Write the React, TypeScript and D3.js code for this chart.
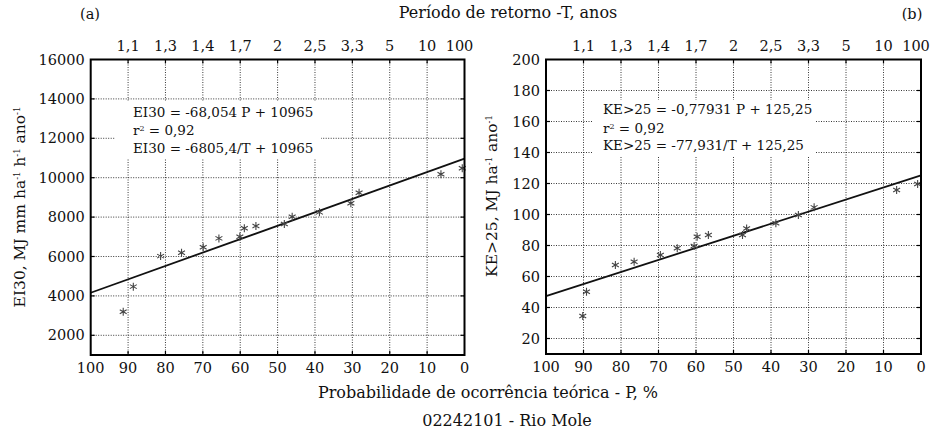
import React from "react";
import * as d3 from "d3";

// ---------- data ----------
const bottomTicks = [100, 90, 80, 70, 60, 50, 40, 30, 20, 10, 0];
const topTickP = [90, 80, 70, 60, 50, 40, 30, 20, 10, 0];
const topTickLabels = ["1,1", "1,3", "1,4", "1,7", "2", "2,5", "3,3", "5", "10", "100"];

const eiP = [91.3, 88.6, 81.3, 75.7, 69.9, 65.7, 60.1, 58.9, 55.8, 48.2, 46.1, 38.8, 30.4, 28.2, 6.3, 0.6];
const eiValues = [3200, 4470, 6020, 6190, 6470, 6920, 7000, 7430, 7550, 7650, 8020, 8240, 8700, 9240, 10170, 10480];
const eiTicks = [2000, 4000, 6000, 8000, 10000, 12000, 14000, 16000];
const eiFit = { slope: -68.054, intercept: 10965 };

const keP = [90.2, 89.2, 81.5, 76.5, 69.5, 65.0, 60.5, 59.7, 56.7, 47.6, 46.5, 38.7, 32.7, 28.5, 6.5, 0.9];
const keValues = [34.5, 50.2, 67.4, 69.5, 73.9, 78.2, 79.7, 85.7, 86.8, 86.8, 91.0, 94.3, 99.7, 104.6, 115.8, 119.7];
const keTicks = [20, 40, 60, 80, 100, 120, 140, 160, 180, 200];
const keFit = { slope: -0.77931, intercept: 125.25 };

const FONT = "'DejaVu Serif', serif";

type PanelProps = {
  x0: number; x1: number; y0: number; y1: number;
  yDomain: [number, number];
  yTicks: number[];
  P: number[]; V: number[];
  fit: { slope: number; intercept: number };
  box: { x: number; y: number; w: number; h: number };
  textX: number; textY: number[];
  eq: string[];
  label: "a" | "b";
  yLabel: React.ReactNode;
  yLabelX: number; yLabelY: number;
};

function star(cx: number, cy: number, r: number) {
  const parts: string[] = [];
  for (let k = 0; k < 3; k++) {
    const a = (Math.PI / 2) + (k * Math.PI) / 3;
    const dx = Math.cos(a) * r, dy = Math.sin(a) * r;
    parts.push(`M${cx - dx},${cy - dy}L${cx + dx},${cy + dy}`);
  }
  return parts.join("");
}

function Panel(p: PanelProps) {
  const x = d3.scaleLinear().domain([100, 0]).range([p.x0, p.x1]);
  const y = d3.scaleLinear().domain(p.yDomain).range([p.y1, p.y0]);
  const line = d3.line<number>().x((d) => x(d)).y((d) => y(p.fit.slope * d + p.fit.intercept));
  const gridP = bottomTicks.filter((t) => t !== 100 && t !== 0);
  const gridY = p.yTicks.filter((t) => t !== p.yDomain[1]);
  const tl = 4;
  return (
    <g>
      {/* grid */}
      {gridP.map((t) => (
        <line key={"gv" + t} x1={x(t)} x2={x(t)} y1={p.y0} y2={p.y1} stroke="#222" strokeWidth={0.9} strokeDasharray="1,1.5" />
      ))}
      {gridY.map((t) => (
        <line key={"gh" + t} x1={p.x0} x2={p.x1} y1={y(t)} y2={y(t)} stroke="#222" strokeWidth={0.9} strokeDasharray="1,1.5" />
      ))}
      {/* inward ticks */}
      {gridP.map((t) => (
        <g key={"tv" + t}>
          <line x1={x(t)} x2={x(t)} y1={p.y0} y2={p.y0 + tl} stroke="#000" strokeWidth={1.2} />
          <line x1={x(t)} x2={x(t)} y1={p.y1} y2={p.y1 - tl} stroke="#000" strokeWidth={1.2} />
        </g>
      ))}
      {gridY.map((t) => (
        <g key={"th" + t}>
          <line x1={p.x0} x2={p.x0 + tl} y1={y(t)} y2={y(t)} stroke="#000" strokeWidth={1.2} />
          <line x1={p.x1} x2={p.x1 - tl} y1={y(t)} y2={y(t)} stroke="#000" strokeWidth={1.2} />
        </g>
      ))}
      {/* equation box */}
      <rect x={p.box.x} y={p.box.y} width={p.box.w} height={p.box.h} fill="#fff" />
      <g fontFamily={FONT} fontSize={13.5} fill="#111">
        <text x={p.textX} y={p.textY[0]}>{p.eq[0]}</text>
        <text x={p.textX} y={p.textY[1]}>
          r<tspan fontSize={8} baselineShift="super">2</tspan> = 0,92
        </text>
        <text x={p.textX} y={p.textY[2]}>{p.eq[1]}</text>
      </g>
      {/* fit line */}
      <path d={line([100, 0]) || ""} stroke="#111" strokeWidth={1.8} fill="none" />
      {/* points */}
      {p.P.map((pp, i) => (
        <path key={"s" + i} d={star(x(pp), y(p.V[i]), 4)} stroke="#444" strokeWidth={1.1} fill="none" />
      ))}
      {/* frame */}
      <rect x={p.x0} y={p.y0} width={p.x1 - p.x0} height={p.y1 - p.y0} fill="none" stroke="#000" strokeWidth={2} />
      {/* tick labels */}
      <g fontFamily={FONT} fontSize={14.5} fill="#111">
        {bottomTicks.map((t) => (
          <text key={"bl" + t} x={x(t)} y={p.y1 + 18} textAnchor="middle">{t}</text>
        ))}
        {topTickP.map((t, i) => (
          <text key={"tl" + t} x={t === 0 ? x(t) - 5 : x(t)} y={p.y0 - 9} textAnchor="middle">{topTickLabels[i]}</text>
        ))}
        {p.yTicks.map((t) => (
          <text key={"yl" + t} x={p.x0 - 6} y={y(t) + 5} textAnchor="end">{t}</text>
        ))}
      </g>
      <text x={p.label === "a" ? 90 : 912} y={19} fontFamily={FONT} fontSize={14.5} textAnchor="middle" fill="#111">({p.label})</text>
      <text transform={`translate(${p.yLabelX},${p.yLabelY}) rotate(-90)`} fontFamily={FONT} fontSize={15.5} textAnchor="middle" fill="#111">
        {p.yLabel}
      </text>
    </g>
  );
}

const sup = (s: string) => (
  <tspan fontSize={8.5} baselineShift="super">{s}</tspan>
);

export default function App() {
  return (
    <svg width={933} height={431} style={{ display: "block", position: "absolute", left: 0, top: 0, background: "#fff" }}>
      <rect width={933} height={431} fill="#fff" />
      <text x={508} y={18} fontFamily={FONT} fontSize={16} textAnchor="middle" fill="#111">Período de retorno -T, anos</text>
      <Panel
        x0={90.7} x1={464.5} y0={59.5} y1={355}
        yDomain={[1000, 16000]} yTicks={eiTicks}
        P={eiP} V={eiValues} fit={eiFit}
        box={{ x: 115, y: 101, w: 206, h: 58 }}
        textX={133} textY={[116.5, 134.5, 152.5]}
        eq={["EI30 = -68,054 P + 10965", "EI30 = -6805,4/T + 10965"]}
        label="a"
        yLabel={<>EI30, MJ mm ha{sup("-1")} h{sup("-1")} ano{sup("-1")}</>}
        yLabelX={25} yLabelY={207}
      />
      <Panel
        x0={546} x1={921} y0={59.5} y1={354}
        yDomain={[10, 200]} yTicks={keTicks}
        P={keP} V={keValues} fit={keFit}
        box={{ x: 592, y: 100, w: 224, h: 56 }}
        textX={603} textY={[114, 132.5, 150]}
        eq={["KE>25 = -0,77931 P + 125,25", "KE>25 = -77,931/T + 125,25"]}
        label="b"
        yLabel={<>KE&gt;25, MJ ha{sup("-1")} ano{sup("-1")}</>}
        yLabelX={497} yLabelY={196}
      />
      <text x={488} y={398} fontFamily={FONT} fontSize={16} textAnchor="middle" fill="#111">Probabilidade de ocorrência teórica - P, %</text>
      <text x={507} y={426} fontFamily={FONT} fontSize={16} textAnchor="middle" fill="#111">02242101 - Rio Mole</text>
    </svg>
  );
}
